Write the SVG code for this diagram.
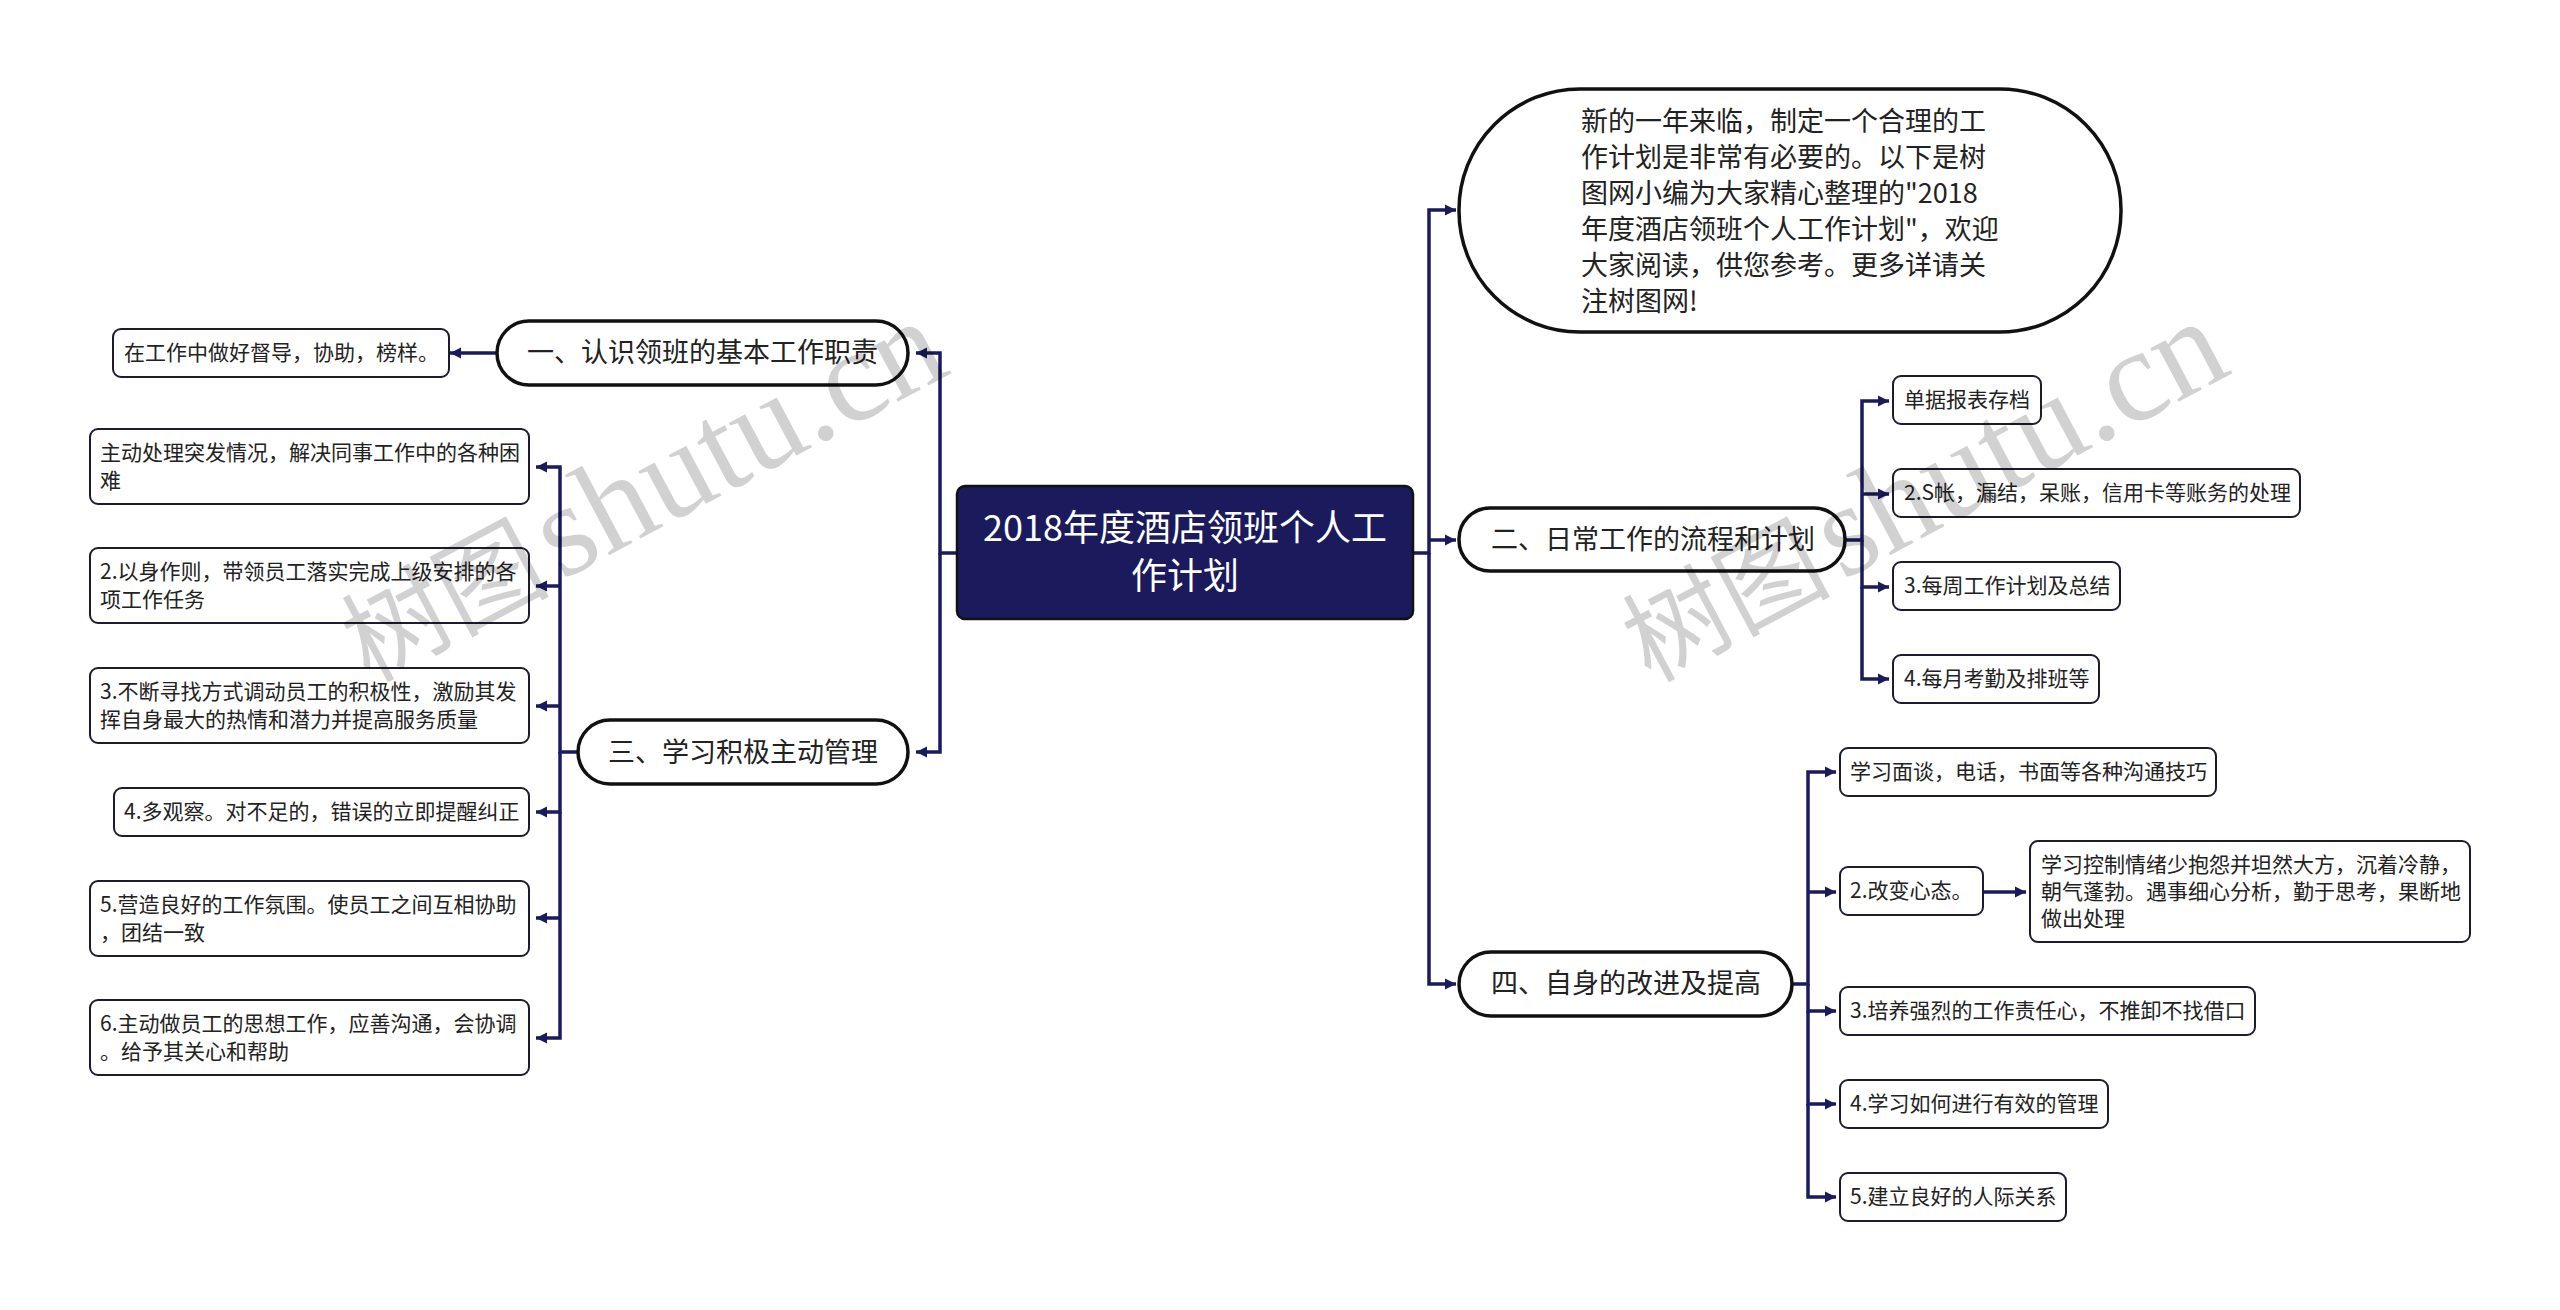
<svg xmlns="http://www.w3.org/2000/svg" width="2560" height="1310" viewBox="0 0 2560 1310">
<style>
text{font-family:"Noto Sans CJK SC","Noto Sans",sans-serif;fill:#222}
.box{fill:#fff;stroke:#1c1c2e;stroke-width:2}
.pill{fill:#fff;stroke:#111;stroke-width:3.5}
.s{font-size:21px}.m{font-size:27px}
.c{fill:none;stroke:#1a1a5c;stroke-width:3.5}
.a{fill:#1a1a5c}
.w{font-family:"Liberation Serif","Noto Sans CJK SC",serif;font-size:132px;fill:#000;fill-opacity:.18}
.wc{font-size:104px}
</style>
<defs><marker id="ar" markerUnits="userSpaceOnUse" markerWidth="12" markerHeight="12" refX="11" refY="6" orient="auto"><path class="a" d="M0 0.5L11 6L0 11.5z"/></marker></defs>
<rect width="2560" height="1310" fill="#fff"/>
<g id="connectors">
<path class="c" d="M957 553H940V353H916" marker-end="url(#ar)"/>
<path class="c" d="M940 553V752H916" marker-end="url(#ar)"/>
<path class="c" d="M497 353H450" marker-end="url(#ar)"/>
<path class="c" d="M578 752H560V467H536" marker-end="url(#ar)"/>
<path class="c" d="M560 586H536" marker-end="url(#ar)"/>
<path class="c" d="M560 706H536" marker-end="url(#ar)"/>
<path class="c" d="M560 752V812H536" marker-end="url(#ar)"/>
<path class="c" d="M560 918H536" marker-end="url(#ar)"/>
<path class="c" d="M560 812V1038H536" marker-end="url(#ar)"/>
<path class="c" d="M1413 553H1429V210H1456" marker-end="url(#ar)"/>
<path class="c" d="M1429 540H1456" marker-end="url(#ar)"/>
<path class="c" d="M1429 553V984H1456" marker-end="url(#ar)"/>
<path class="c" d="M1845 540H1862V401H1889" marker-end="url(#ar)"/>
<path class="c" d="M1862 494H1889" marker-end="url(#ar)"/>
<path class="c" d="M1862 540V587H1889" marker-end="url(#ar)"/>
<path class="c" d="M1862 587V679H1889" marker-end="url(#ar)"/>
<path class="c" d="M1792 984H1808V772H1836" marker-end="url(#ar)"/>
<path class="c" d="M1808 892H1836" marker-end="url(#ar)"/>
<path class="c" d="M1808 984V1011H1836" marker-end="url(#ar)"/>
<path class="c" d="M1808 1011V1104H1836" marker-end="url(#ar)"/>
<path class="c" d="M1808 1104V1197H1836" marker-end="url(#ar)"/>
<path class="c" d="M1983 892H2026" marker-end="url(#ar)"/>
</g>
<g id="root"><rect x="957" y="486" width="456" height="133" rx="8" fill="#1a1a5c" stroke="#111" stroke-width="2.5"/>
<text x="1185" y="541" text-anchor="middle" font-size="36" style="fill:#fff">2018年度酒店领班个人工</text><text x="1185" y="589" text-anchor="middle" font-size="36" style="fill:#fff">作计划</text></g>
<g id="n1"><rect class="pill" x="497" y="321" width="411" height="64" rx="32"/><text class="m" x="527" y="362">一、认识领班的基本工作职责</text></g>
<g id="n11"><rect class="box" x="113" y="329" width="336" height="48" rx="8"/><text class="s" x="124" y="360">在工作中做好督导，协助，榜样。</text></g>
<g id="n3"><rect class="pill" x="578" y="720" width="330" height="64" rx="32"/><text class="m" x="608" y="762">三、学习积极主动管理</text></g>
<g id="n31"><rect class="box" x="90" y="429" width="439" height="75" rx="8"/><text class="s" x="100" y="460">主动处理突发情况，解决同事工作中的各种困</text><text class="s" x="100" y="488">难</text></g>
<g id="n32"><rect class="box" x="90" y="548" width="439" height="75" rx="8"/><text class="s" x="100" y="579">2.以身作则，带领员工落实完成上级安排的各</text><text class="s" x="100" y="607">项工作任务</text></g>
<g id="n33"><rect class="box" x="90" y="668" width="439" height="75" rx="8"/><text class="s" x="100" y="699">3.不断寻找方式调动员工的积极性，激励其发</text><text class="s" x="100" y="727">挥自身最大的热情和潜力并提高服务质量</text></g>
<g id="n34"><rect class="box" x="114" y="788" width="415" height="48" rx="8"/><text class="s" x="124" y="819">4.多观察。对不足的，错误的立即提醒纠正</text></g>
<g id="n35"><rect class="box" x="90" y="881" width="439" height="75" rx="8"/><text class="s" x="100" y="912">5.营造良好的工作氛围。使员工之间互相协助</text><text class="s" x="100" y="940">，团结一致</text></g>
<g id="n36"><rect class="box" x="90" y="1000" width="439" height="75" rx="8"/><text class="s" x="100" y="1031">6.主动做员工的思想工作，应善沟通，会协调</text><text class="s" x="100" y="1059">。给予其关心和帮助</text></g>
<g id="n0"><rect class="pill" x="1459" y="89" width="662" height="243" rx="121"/>
<text class="m" x="1581" y="131">新的一年来临，制定一个合理的工</text><text class="m" x="1581" y="167">作计划是非常有必要的。以下是树</text><text class="m" x="1581" y="203">图网小编为大家精心整理的"2018</text><text class="m" x="1581" y="239">年度酒店领班个人工作计划"，欢迎</text><text class="m" x="1581" y="275">大家阅读，供您参考。更多详请关</text><text class="m" x="1581" y="311">注树图网!</text></g>
<g id="n2"><rect class="pill" x="1459" y="508" width="386" height="63" rx="31"/><text class="m" x="1491" y="549">二、日常工作的流程和计划</text></g>
<g id="n21"><rect class="box" x="1893" y="376" width="148" height="48" rx="8"/><text class="s" x="1904" y="407">单据报表存档</text></g>
<g id="n22"><rect class="box" x="1893" y="469" width="407" height="48" rx="8"/><text class="s" x="1904" y="500">2.S帐，漏结，呆账，信用卡等账务的处理</text></g>
<g id="n23"><rect class="box" x="1893" y="562" width="227" height="48" rx="8"/><text class="s" x="1904" y="593">3.每周工作计划及总结</text></g>
<g id="n24"><rect class="box" x="1893" y="655" width="206" height="48" rx="8"/><text class="s" x="1904" y="686">4.每月考勤及排班等</text></g>
<g id="n4"><rect class="pill" x="1459" y="952" width="333" height="64" rx="32"/><text class="m" x="1491" y="993">四、自身的改进及提高</text></g>
<g id="n41"><rect class="box" x="1840" y="748" width="376" height="48" rx="8"/><text class="s" x="1850" y="779">学习面谈，电话，书面等各种沟通技巧</text></g>
<g id="n42"><rect class="box" x="1840" y="867" width="143" height="48" rx="8"/><text class="s" x="1850" y="898">2.改变心态。</text></g>
<g id="n421"><rect class="box" x="2030" y="841" width="440" height="101" rx="8"/><text class="s" x="2041" y="872">学习控制情绪少抱怨并坦然大方，沉着冷静，</text><text class="s" x="2041" y="899">朝气蓬勃。遇事细心分析，勤于思考，果断地</text><text class="s" x="2041" y="926">做出处理</text></g>
<g id="n43"><rect class="box" x="1840" y="987" width="415" height="48" rx="8"/><text class="s" x="1850" y="1018">3.培养强烈的工作责任心，不推卸不找借口</text></g>
<g id="n44"><rect class="box" x="1840" y="1080" width="268" height="48" rx="8"/><text class="s" x="1850" y="1111">4.学习如何进行有效的管理</text></g>
<g id="n45"><rect class="box" x="1840" y="1173" width="226" height="48" rx="8"/><text class="s" x="1850" y="1204">5.建立良好的人际关系</text></g>
<text class="w" transform="translate(369 683) rotate(-28)"><tspan class="wc">树图 </tspan><tspan dx="-16">shutu.cn</tspan></text>
<text class="w" transform="translate(1650 683) rotate(-28)"><tspan class="wc">树图 </tspan><tspan dx="-16">shutu.cn</tspan></text>
</svg>
